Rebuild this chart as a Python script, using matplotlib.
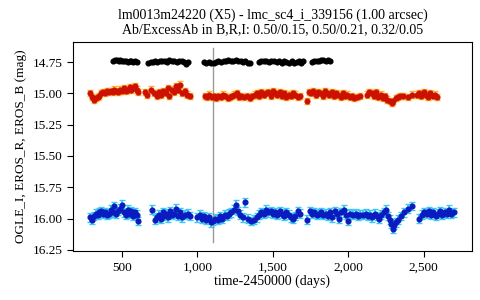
import matplotlib
matplotlib.use("Agg")
import matplotlib.pyplot as plt
from matplotlib.ticker import FuncFormatter

plt.rcParams['font.family'] = ['Liberation Serif', 'DejaVu Serif']

# OGLE I (black)
black_t = [440, 452, 465, 478, 490, 500, 512, 525, 538, 550, 562, 575, 588, 600,
           672, 690, 705, 720, 735, 752, 768, 785, 800, 815, 830, 848, 862, 878, 895, 910, 925, 938,
           1044, 1060, 1075, 1092, 1108, 1125, 1140, 1158, 1175, 1190, 1205, 1222, 1238, 1255, 1270, 1288, 1302, 1318, 1335, 1349,
           1408, 1425, 1440, 1458, 1475, 1490, 1508, 1525, 1540, 1558, 1575, 1590, 1608, 1625, 1640, 1658, 1672, 1688, 1700,
           1760, 1775, 1790, 1805, 1820, 1835, 1850, 1865, 1879]
black_m = [14.74, 14.73, 14.73, 14.74, 14.73, 14.74, 14.745, 14.74, 14.75, 14.745, 14.74, 14.75, 14.745, 14.75,
           14.76, 14.75, 14.75, 14.745, 14.75, 14.74, 14.745, 14.74, 14.75, 14.735, 14.745, 14.74, 14.75, 14.745, 14.74, 14.75, 14.765, 14.75,
           14.75, 14.755, 14.75, 14.76, 14.755, 14.75, 14.745, 14.75, 14.74, 14.745, 14.735, 14.745, 14.74, 14.73, 14.745, 14.74, 14.75, 14.745, 14.755, 14.76,
           14.75, 14.745, 14.74, 14.745, 14.75, 14.74, 14.745, 14.75, 14.745, 14.755, 14.74, 14.75, 14.755, 14.745, 14.76, 14.75, 14.74, 14.755, 14.745,
           14.75, 14.745, 14.74, 14.745, 14.735, 14.73, 14.74, 14.73, 14.74]

# EROS R (red)
red_t = [288, 300, 312, 325, 338, 350, 362, 375, 388, 400, 412, 425, 438, 450, 462, 475, 488, 500, 512, 525, 538, 550, 562, 575, 588, 600, 606,
         652, 665, 690, 712, 730, 745, 760, 775, 790, 805, 815, 830, 845, 858, 870, 885, 900, 915, 930, 951,
         1050, 1065, 1080, 1095, 1110, 1125, 1140, 1155, 1170, 1185, 1200, 1215, 1230, 1245, 1260, 1275, 1290, 1310, 1330, 1350, 1365,
         1380, 1395, 1410, 1425, 1440, 1455, 1470, 1485, 1500, 1515, 1530, 1545, 1560, 1575, 1590, 1605, 1620, 1635, 1650, 1665, 1680,
         1727, 1740, 1755, 1770, 1785, 1800, 1815, 1830, 1845, 1860, 1875, 1890, 1905, 1920, 1935, 1950, 1965, 1980, 1995, 2010, 2025, 2040, 2060, 2078,
         2125, 2140, 2155, 2170, 2185, 2200, 2215, 2230, 2245, 2260, 2275, 2290, 2300, 2315, 2330, 2343,
         2365, 2395, 2420,
         2456, 2470, 2485, 2500, 2515, 2530, 2545, 2560, 2575, 2589]
red_m = [15.00, 15.03, 15.05, 15.04, 15.03, 15.02, 15.00, 14.99, 15.00, 14.98, 14.99, 14.98, 14.99, 14.97, 14.98, 14.99, 14.97, 14.98, 14.96, 14.98, 14.97, 14.95, 14.97, 14.96, 14.94, 14.97, 14.99,
         14.99, 15.01, 14.97, 15.00, 15.02, 14.99, 15.01, 14.98, 15.00, 14.96, 15.02, 14.97, 14.99, 14.94, 14.97, 14.93, 15.00, 14.98, 15.01, 15.02,
         15.02, 15.03, 15.01, 15.03, 15.02, 15.04, 15.02, 15.03, 15.01, 15.02, 15.04, 15.03, 15.02, 15.01, 15.00, 15.03, 15.02, 15.03, 15.02, 15.04, 15.02,
         15.01, 15.00, 15.02, 14.99, 15.01, 15.00, 14.99, 15.02, 14.98, 15.00, 15.01, 14.99, 15.02, 15.00, 15.03, 15.01, 15.02, 15.00, 15.01, 15.03, 15.02,
         15.06, 14.99, 15.00, 14.98, 15.01, 14.99, 15.00, 15.02, 14.98, 15.00, 15.01, 14.99, 15.02, 15.00, 15.01, 15.03, 15.00, 15.02, 15.01, 15.03, 15.02, 15.04, 15.03, 15.02,
         15.01, 14.99, 15.00, 15.02, 14.99, 15.03, 15.01, 15.04, 15.02, 15.05, 15.06, 15.08, 15.06, 15.04, 15.03, 15.02,
         15.02, 15.03, 15.01,
         15.01, 15.00, 15.02, 14.99, 15.01, 15.03, 15.00, 15.02, 15.01, 15.03]
red_err = 0.025

# EROS B (blue)
blue_t = [288, 300, 312, 325, 338, 350, 362, 375, 388, 400, 412, 425, 438, 450, 462, 475, 488, 500, 512, 525, 538, 550, 562, 575, 588, 600, 606,
          699, 720, 732, 745, 758, 770, 782, 795, 808, 820, 832, 845, 858, 870, 885, 900, 915, 935, 951,
          1000, 1015, 1030, 1045, 1060, 1075, 1090, 1105, 1120, 1135, 1150, 1165, 1180, 1195, 1210, 1225, 1240, 1255, 1270, 1285, 1300, 1316,
          1335, 1355, 1375, 1395, 1410, 1425, 1440, 1455, 1470, 1485, 1500, 1515, 1530, 1545, 1560, 1575, 1590, 1605, 1620, 1635, 1650, 1665, 1680,
          1727, 1745, 1760, 1775, 1790, 1805, 1820, 1835, 1850, 1865, 1880, 1895, 1910, 1925, 1940, 1955, 1970, 1985, 2000, 2015, 2030, 2050, 2065, 2078,
          2100, 2115, 2130, 2145, 2160, 2175, 2190, 2205, 2220, 2235, 2250, 2262, 2275, 2285, 2295, 2305, 2315, 2330, 2350, 2370, 2395, 2420,
          2470, 2490, 2505, 2520, 2535, 2550, 2565, 2580, 2595, 2610, 2625, 2640, 2655, 2670, 2685, 2700]
blue_m = [15.99, 16.01, 15.98, 15.96, 15.97, 15.95, 15.94, 15.96, 15.95, 15.97, 15.96, 15.93, 15.95, 15.90, 15.96, 15.94, 15.92, 15.89, 15.95, 15.97, 15.93, 15.96, 15.94, 15.98, 15.95, 15.97, 16.02,
          15.93, 16.01, 15.99, 15.97, 16.00, 15.95, 15.98, 15.96, 15.99, 15.94, 15.97, 15.96, 15.92, 15.98, 15.95, 15.99, 15.97, 15.96, 15.98,
          15.99, 15.97, 16.00, 15.98, 16.01, 15.99, 16.03, 16.02, 16.00, 16.01, 15.98, 16.00, 15.97, 15.98, 15.96, 15.95, 15.93, 15.89, 15.94, 15.97, 15.99, 15.87,
          16.00, 16.02, 16.01, 15.99, 15.97, 15.95, 15.96, 15.93, 15.95, 15.94, 15.96, 15.95, 15.97, 15.94, 15.96, 15.98, 15.95, 15.97, 15.99, 16.00, 15.98, 15.94, 15.96,
          16.01, 15.94, 15.96, 15.95, 15.97, 15.96, 15.95, 15.97, 15.96, 15.98, 15.95, 15.99, 15.94, 15.96, 16.00, 15.95, 15.93, 15.97, 16.02, 15.96, 15.97, 15.96, 15.98, 15.97,
          15.97, 15.96, 15.98, 15.97, 15.99, 15.96, 15.98, 16.00, 15.97, 15.95, 15.93, 15.98, 16.01, 16.04, 16.08, 16.05, 16.03, 16.01, 15.98, 15.95, 15.92, 15.90,
          16.00, 15.97, 15.95, 15.96, 15.94, 15.97, 15.95, 15.98, 15.96, 15.94, 15.97, 15.95, 15.96, 15.93, 15.96, 15.95]
blue_err = 0.035

event_t = 1103
title = "lm0013m24220 (X5) - lmc_sc4_i_339156 (1.00 arcsec)\nAb/ExcessAb in B,R,I: 0.50/0.15, 0.50/0.21, 0.32/0.05"

fig = plt.figure(figsize=(4.8, 3.0), dpi=100)
ax = fig.add_axes([0.152, 0.163, 0.831, 0.697])

# error bars first, then the points on top
ax.errorbar(blue_t, blue_m, yerr=blue_err, fmt='none', ecolor='#3cc8f0',
            elinewidth=1.4, capsize=2, zorder=2)
ax.errorbar(red_t, red_m, yerr=red_err, fmt='none', ecolor='#ffb030',
            elinewidth=1.4, capsize=2, zorder=2)
ax.plot(blue_t, blue_m, 'o', ms=3.4, color='#0a1cc0', zorder=3)
ax.plot(red_t, red_m, 'o', ms=3.4, color='#cc1100', zorder=3)
ax.plot(black_t, black_m, 'o', ms=3.4, color='black', zorder=3)

ax.axvline(event_t, ymin=0.043, ymax=0.971, color='#999999', lw=1.0, zorder=2.5)

ax.set_xlim(175, 2820)
ax.set_ylim(16.26, 14.59)
ax.set_xticks([500, 1000, 1500, 2000, 2500])
ax.set_yticks([14.75, 15.0, 15.25, 15.5, 15.75, 16.0, 16.25])
ax.xaxis.set_major_formatter(FuncFormatter(lambda v, p: f"{int(v):,}"))
ax.yaxis.set_major_formatter(FuncFormatter(lambda v, p: f"{v:.2f}"))
ax.tick_params(direction='out', length=4, labelsize=9.5)

ax.set_xlabel("time-2450000 (days)", fontsize=10, labelpad=1)
ax.set_ylabel("OGLE_I, EROS_R, EROS_B (mag)", fontsize=9.5, labelpad=4)
ax.set_title(title, fontsize=10, linespacing=1.15, pad=6)

fig.savefig("out.png", dpi=100)
